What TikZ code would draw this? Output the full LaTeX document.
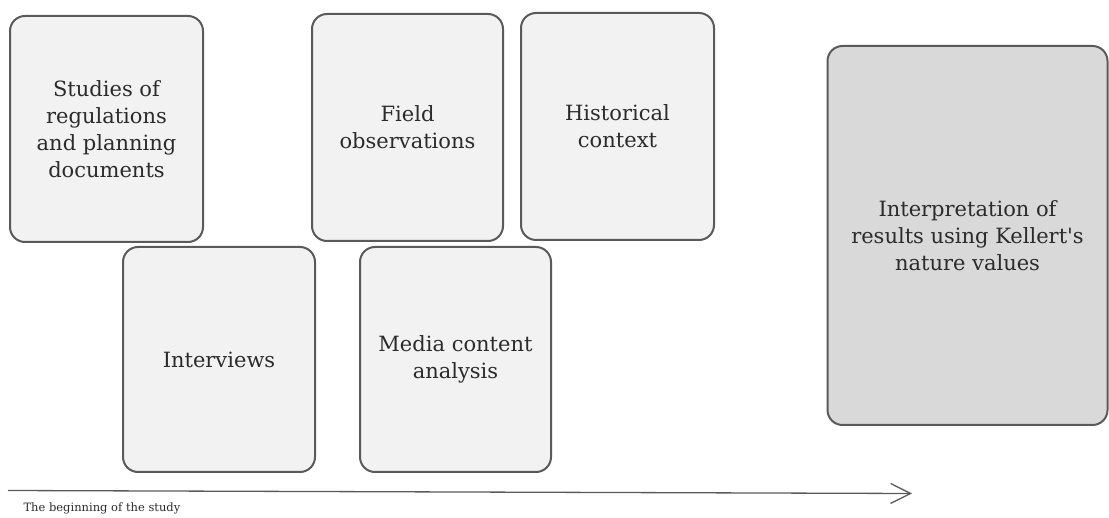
\documentclass[tikz,border=0pt]{standalone}
\usepackage{fontspec}
\setmainfont{DejaVu Serif}[Ligatures=TeXOff]
\usetikzlibrary{arrows.meta}
\definecolor{boxfill}{HTML}{F2F2F2}
\definecolor{darkfill}{HTML}{D9D9D9}
\definecolor{edge}{HTML}{5A5A5A}
\definecolor{txt}{HTML}{2B2B2B}
\tikzset{
  stepbox/.style={draw=edge, line width=2pt, rounded corners=15pt, fill=boxfill,
    text=txt, align=center, font=\fontsize{21}{27}\selectfont},
}
\begin{document}
\begin{tikzpicture}[x=1pt,y=-1pt]
\useasboundingbox (0,0) rectangle (1109,518);
\node[stepbox, minimum width=193pt, minimum height=226pt] (studies) at (106.5,129) {Studies of\\regulations\\and planning\\documents};
\node[stepbox, minimum width=191pt, minimum height=227pt] (field) at (407.5,127.5) {Field\\observations};
\node[stepbox, minimum width=193pt, minimum height=227pt] (hist) at (617.5,126.5) {Historical\\context};
\node[stepbox, minimum width=192pt, minimum height=225pt] (inter) at (219,359.5) {Interviews};
\node[stepbox, minimum width=191pt, minimum height=225pt] (media) at (455.5,359.5) {Media content\\analysis};
\node[stepbox, fill=darkfill, minimum width=280pt, minimum height=379pt] (interp) at (967.5,235.5) {Interpretation of\\results using Kellert's\\nature values};
\coordinate (tstart) at (8,490.5);
\coordinate (tend) at (912,493.5);
\draw[edge, line width=1.3pt, -{Straight Barb[length=20pt,width=20pt,line width=1.3pt]}] (tstart) -- (tend);
\node[anchor=west, text=txt, font=\fontsize{11.5}{13}\selectfont] (lbl) at (20,508) {The beginning of the study};
\end{tikzpicture}
\end{document}
